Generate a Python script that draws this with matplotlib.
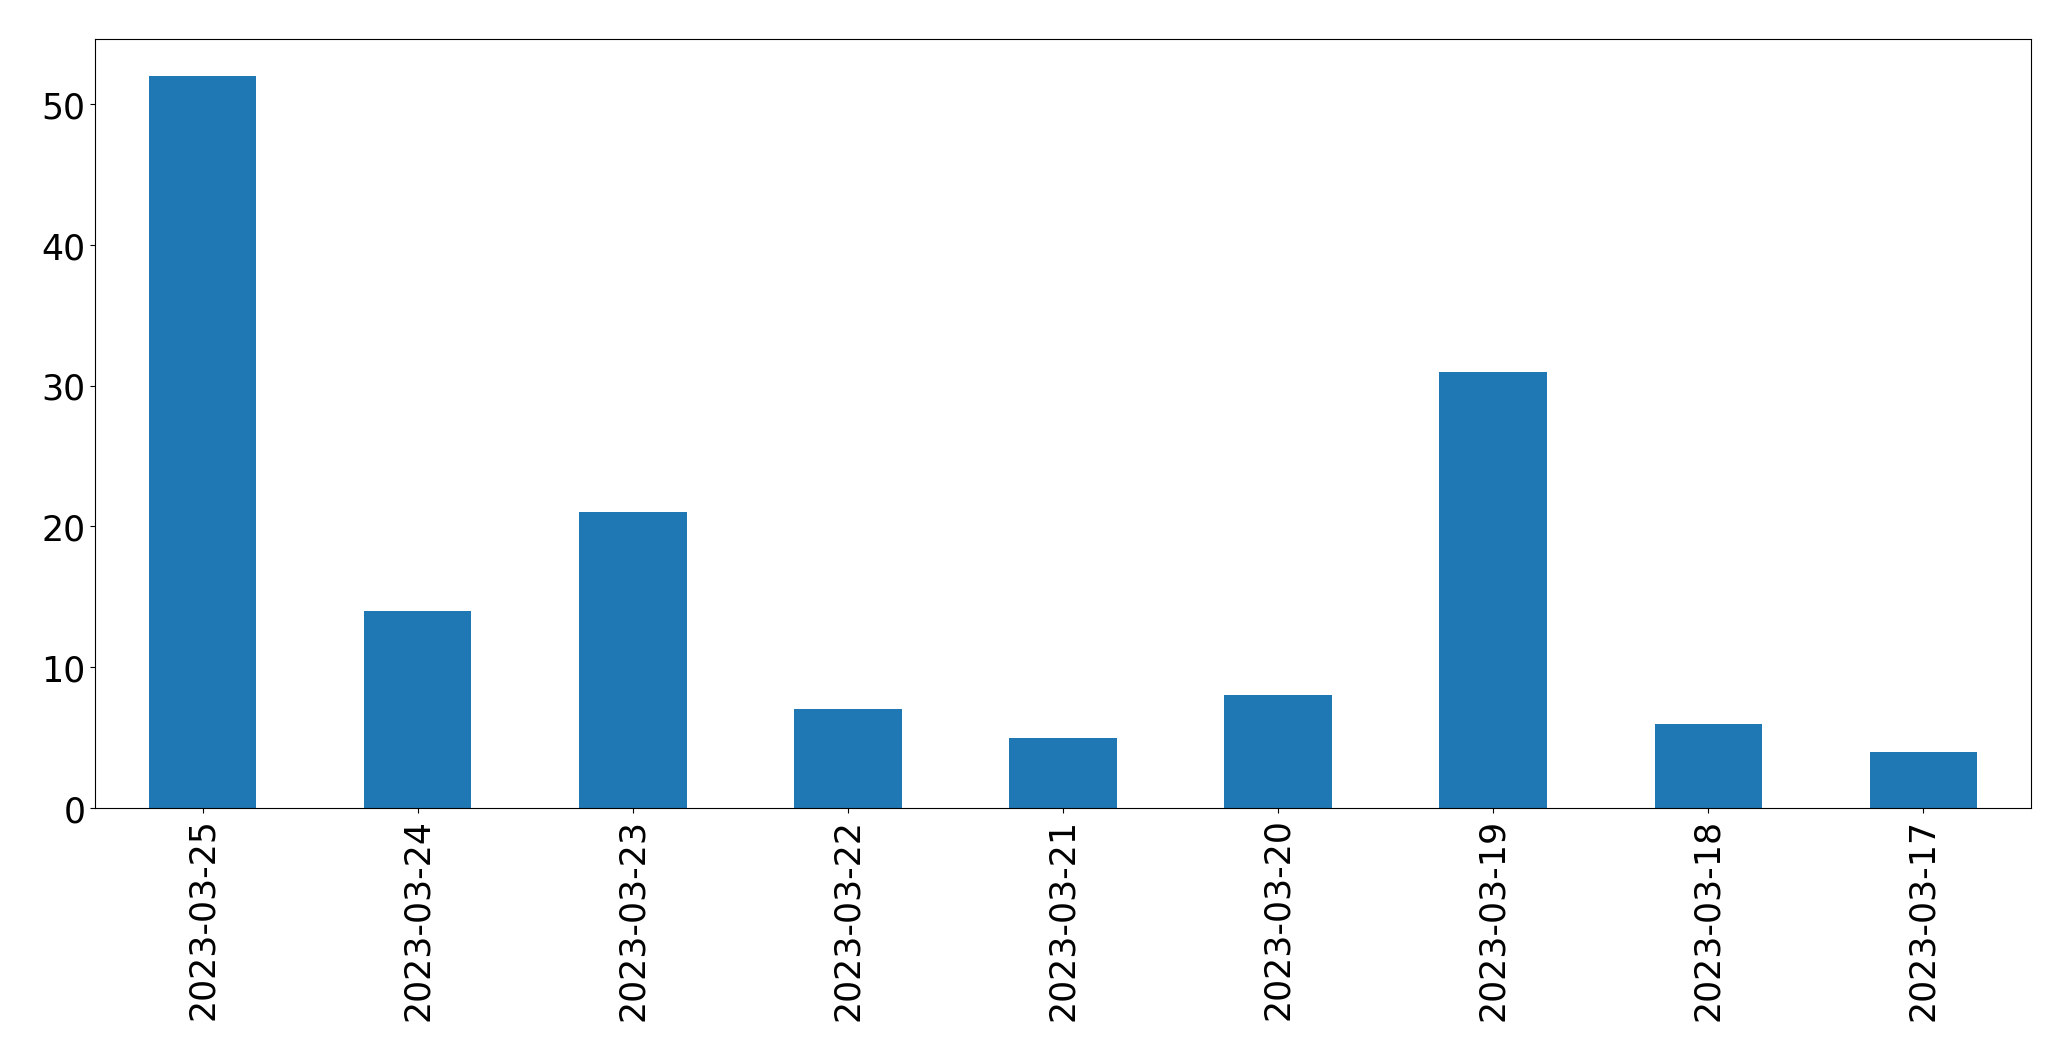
import matplotlib
matplotlib.use("Agg")
import matplotlib.pyplot as plt

dates = ["2023-03-25", "2023-03-24", "2023-03-23", "2023-03-22", "2023-03-21",
         "2023-03-20", "2023-03-19", "2023-03-18", "2023-03-17"]
counts = [52, 14, 21, 7, 5, 8, 31, 6, 4]

fig = plt.figure(figsize=(20.71, 10.608), dpi=100)
ax = fig.add_axes([95 / 2071, 1 - 809 / 1061, (2031 - 95) / 2071, (809 - 40) / 1061])
x = list(range(len(dates)))
ax.bar(x, counts, width=0.5, color="#1f77b4")
ax.set_xlim(-0.5, len(dates) - 0.5)
ax.set_xticks(x)
ax.set_xticklabels(dates, rotation=90)
ax.tick_params(labelsize=25)
ax.set_yticks([0, 10, 20, 30, 40, 50])
fig.savefig("out.png", dpi=100)
